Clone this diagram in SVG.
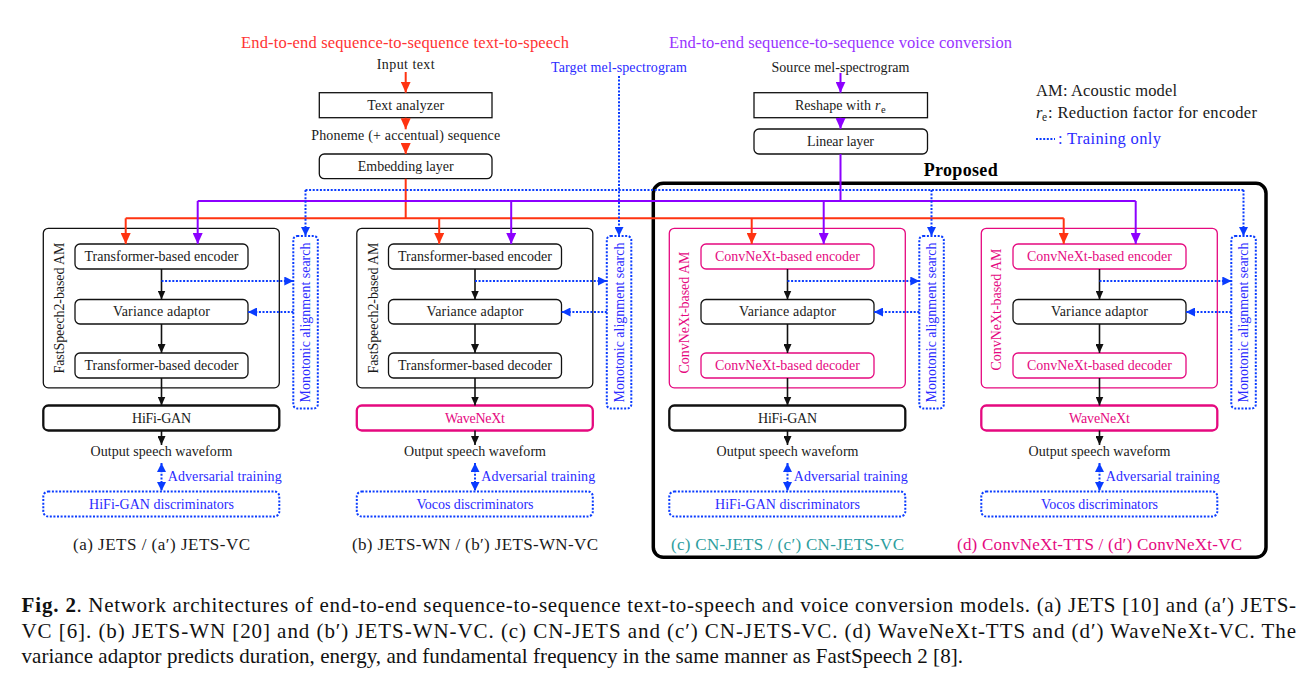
<svg xmlns="http://www.w3.org/2000/svg" width="1302" height="678" viewBox="0 0 1302 678">
<style>
text{font-family:'Liberation Serif','Times New Roman',serif;font-size:14px;fill:#1a1a1a}
.c{text-anchor:middle}
.box{fill:#fff;stroke:#111;stroke-width:1.3}
.pk{stroke:#e5097f}
.voc{stroke-width:2.3}
.dbox{fill:#fff;stroke:#0a3cff;stroke-width:2;stroke-dasharray:2 1.6}
.bt{fill:#2b2bff}
.pt{fill:#e5097f}
.tt{fill:#2e9e9e}
.k{fill:none;stroke:#111;stroke-width:1.6;marker-end:url(#mk)}
.r{fill:none;stroke:#ff3311;stroke-width:2}
.ra{marker-end:url(#mr)}
.p{fill:none;stroke:#8c00ff;stroke-width:2}
.pa{marker-end:url(#mp)}
.d{fill:none;stroke:#0a3cff;stroke-width:2;stroke-dasharray:2 1.6}
.da{marker-end:url(#mb)}
.big{font-size:16.5px}
.cap{font-size:21px;fill:#111}
.lab{font-size:17px}
.sub{font-size:10.5px}
.it{font-style:italic}
.bold{font-weight:bold}
.prop{font-size:18px;font-weight:bold;fill:#000}
</style>
<defs>
<marker id="mk" viewBox="0 0 10 10" refX="10" refY="5" markerWidth="9" markerHeight="8" markerUnits="userSpaceOnUse" orient="auto" preserveAspectRatio="none"><path d="M0,0L10,5L0,10z" fill="#111"/></marker>
<marker id="mr" viewBox="0 0 10 10" refX="10" refY="5" markerWidth="11" markerHeight="10" markerUnits="userSpaceOnUse" orient="auto" preserveAspectRatio="none"><path d="M0,0L10,5L0,10z" fill="#ff3311"/></marker>
<marker id="mp" viewBox="0 0 10 10" refX="10" refY="5" markerWidth="11" markerHeight="10" markerUnits="userSpaceOnUse" orient="auto" preserveAspectRatio="none"><path d="M0,0L10,5L0,10z" fill="#8c00ff"/></marker>
<marker id="mb" viewBox="0 0 10 10" refX="10" refY="5" markerWidth="9" markerHeight="9" markerUnits="userSpaceOnUse" orient="auto-start-reverse" preserveAspectRatio="none"><path d="M0,0L10,5L0,10z" fill="#0a3cff"/></marker>
</defs>

<g id="titles">
<text class="c big" x="405" y="48" style="fill:#ff3333" textLength="328">End-to-end sequence-to-sequence text-to-speech</text>
<text class="c big" x="840.5" y="48" style="fill:#9933ff" textLength="343">End-to-end sequence-to-sequence voice conversion</text>
</g>

<g id="tts-input"><text class="c" x="405.7" y="68.5" textLength="58">Input text</text></g>
<g id="text-analyzer"><rect class="box" x="319.3" y="92.7" width="172.7" height="25"/><text class="c" x="405.7" y="109.5" textLength="77">Text analyzer</text></g>
<g id="phoneme-seq"><text class="c" x="405.7" y="139.5" textLength="189">Phoneme (+ accentual) sequence</text></g>
<g id="embedding"><rect class="box" x="319.3" y="154" width="172.7" height="24.7" rx="5"/><text class="c" x="405.7" y="170.5" textLength="96">Embedding layer</text></g>

<g id="target-mel"><text class="c bt" x="619" y="71.5" textLength="136">Target mel-spectrogram</text></g>

<g id="vc-input"><text class="c" x="840.5" y="71.5" textLength="138">Source mel-spectrogram</text></g>
<g id="reshape"><rect class="box" x="754" y="92.7" width="173.5" height="25"/><text x="795" y="110" textLength="76">Reshape with</text><text class="it" x="875" y="110">r</text><text class="sub" x="881" y="112.5">e</text></g>
<g id="linear"><rect class="box" x="754" y="129" width="173.5" height="25" rx="5"/><text class="c" x="840.5" y="146" textLength="67">Linear layer</text></g>

<g id="legend">
<text class="big" x="1036" y="95.5" textLength="141">AM: Acoustic model</text>
<text class="big it" x="1036" y="118">r</text><text class="sub" x="1042" y="120.5" style="font-size:11.5px">e</text><text class="big" x="1048" y="118" textLength="209">: Reduction factor for encoder</text>
<path class="d" d="M1036,139H1055"/>
<text class="big bt" x="1058" y="143.5" textLength="103">: Training only</text>
</g>

<g id="proposed"><rect x="653.3" y="183.3" width="612.7" height="374" rx="10" fill="none" stroke="#000" stroke-width="3.5"/><text class="c prop" x="960.7" y="175.5" textLength="74">Proposed</text></g>

<g id="panel-a">
 <g id="a-am"><rect class="box" x="43.3" y="228.3" width="236" height="159.5" rx="5"/><text class="c" transform="translate(64,308) rotate(-90)" textLength="131">FastSpeech2-based AM</text></g>
 <g id="a-enc"><rect class="box" x="75" y="244" width="173" height="25" rx="5"/><text class="c" x="161.5" y="261" textLength="154">Transformer-based encoder</text></g>
 <g id="a-var"><rect class="box" x="75" y="299.5" width="173" height="24.5" rx="5"/><text class="c" x="161.5" y="316" textLength="97">Variance adaptor</text></g>
 <g id="a-dec"><rect class="box" x="75" y="353" width="173" height="25" rx="5"/><text class="c" x="161.5" y="370" textLength="154">Transformer-based decoder</text></g>
 <g id="a-voc"><rect class="box voc" x="43.3" y="405.5" width="236" height="25" rx="5"/><text class="c" x="161.5" y="422.5" textLength="59">HiFi-GAN</text></g>
 <g id="a-out"><text class="c" x="161.5" y="456" textLength="142">Output speech waveform</text></g>
 <g id="a-disc"><rect class="dbox" x="43.3" y="491.5" width="236" height="25" rx="5"/><text class="c bt" x="161.5" y="509" textLength="145">HiFi-GAN discriminators</text></g>
 <g id="a-mas"><rect class="dbox" x="293.3" y="236" width="24.5" height="172.5" rx="4"/><text class="c bt" transform="translate(310,322.5) rotate(-90)" textLength="160">Monotonic alignment search</text></g>
 <g id="a-label"><text class="c lab" x="161.5" y="550" textLength="177">(a) JETS / (a′) JETS-VC</text></g>
</g>

<g id="panel-b" transform="translate(313.5,0)">
 <g id="b-am"><rect class="box" x="43.3" y="228.3" width="236" height="159.5" rx="5"/><text class="c" transform="translate(64,308) rotate(-90)" textLength="131">FastSpeech2-based AM</text></g>
 <g id="b-enc"><rect class="box" x="75" y="244" width="173" height="25" rx="5"/><text class="c" x="161.5" y="261" textLength="154">Transformer-based encoder</text></g>
 <g id="b-var"><rect class="box" x="75" y="299.5" width="173" height="24.5" rx="5"/><text class="c" x="161.5" y="316" textLength="97">Variance adaptor</text></g>
 <g id="b-dec"><rect class="box" x="75" y="353" width="173" height="25" rx="5"/><text class="c" x="161.5" y="370" textLength="154">Transformer-based decoder</text></g>
 <g id="b-voc"><rect class="box voc pk" x="43.3" y="405.5" width="236" height="25" rx="5"/><text class="c pt" x="161.5" y="422.5" textLength="60">WaveNeXt</text></g>
 <g id="b-out"><text class="c" x="161.5" y="456" textLength="142">Output speech waveform</text></g>
 <g id="b-disc"><rect class="dbox" x="43.3" y="491.5" width="236" height="25" rx="5"/><text class="c bt" x="161.5" y="509" textLength="117">Vocos discriminators</text></g>
 <g id="b-mas"><rect class="dbox" x="293.3" y="236" width="24.5" height="172.5" rx="4"/><text class="c bt" transform="translate(310,322.5) rotate(-90)" textLength="160">Monotonic alignment search</text></g>
 <g id="b-label"><text class="c lab" x="161.5" y="550" textLength="246">(b) JETS-WN / (b′) JETS-WN-VC</text></g>
</g>

<g id="panel-c" transform="translate(626,0)">
 <g id="c-am"><rect class="box pk" x="43.3" y="228.3" width="236" height="159.5" rx="5"/><text class="c pt" transform="translate(63,312.5) rotate(-90)" textLength="122">ConvNeXt-based AM</text></g>
 <g id="c-enc"><rect class="box pk" x="75" y="244" width="173" height="25" rx="5"/><text class="c pt" x="161.5" y="261" textLength="145">ConvNeXt-based encoder</text></g>
 <g id="c-var"><rect class="box" x="75" y="299.5" width="173" height="24.5" rx="5"/><text class="c" x="161.5" y="316" textLength="97">Variance adaptor</text></g>
 <g id="c-dec"><rect class="box pk" x="75" y="353" width="173" height="25" rx="5"/><text class="c pt" x="161.5" y="370" textLength="145">ConvNeXt-based decoder</text></g>
 <g id="c-voc"><rect class="box voc" x="43.3" y="405.5" width="236" height="25" rx="5"/><text class="c" x="161.5" y="422.5" textLength="59">HiFi-GAN</text></g>
 <g id="c-out"><text class="c" x="161.5" y="456" textLength="142">Output speech waveform</text></g>
 <g id="c-disc"><rect class="dbox" x="43.3" y="491.5" width="236" height="25" rx="5"/><text class="c bt" x="161.5" y="509" textLength="145">HiFi-GAN discriminators</text></g>
 <g id="c-mas"><rect class="dbox" x="293.3" y="236" width="24.5" height="172.5" rx="4"/><text class="c bt" transform="translate(310,322.5) rotate(-90)" textLength="160">Monotonic alignment search</text></g>
 <g id="c-label"><text class="c lab tt" x="161.5" y="550" textLength="233">(c) CN-JETS / (c′) CN-JETS-VC</text></g>
</g>

<g id="panel-d" transform="translate(938,0)">
 <g id="d-am"><rect class="box pk" x="43.3" y="228.3" width="236" height="159.5" rx="5"/><text class="c pt" transform="translate(63,309.5) rotate(-90)" textLength="122">ConvNeXt-based AM</text></g>
 <g id="d-enc"><rect class="box pk" x="75" y="244" width="173" height="25" rx="5"/><text class="c pt" x="161.5" y="261" textLength="145">ConvNeXt-based encoder</text></g>
 <g id="d-var"><rect class="box" x="75" y="299.5" width="173" height="24.5" rx="5"/><text class="c" x="161.5" y="316" textLength="97">Variance adaptor</text></g>
 <g id="d-dec"><rect class="box pk" x="75" y="353" width="173" height="25" rx="5"/><text class="c pt" x="161.5" y="370" textLength="145">ConvNeXt-based decoder</text></g>
 <g id="d-voc"><rect class="box voc pk" x="43.3" y="405.5" width="236" height="25" rx="5"/><text class="c pt" x="161.5" y="422.5" textLength="61">WaveNeXt</text></g>
 <g id="d-out"><text class="c" x="161.5" y="456" textLength="142">Output speech waveform</text></g>
 <g id="d-disc"><rect class="dbox" x="43.3" y="491.5" width="236" height="25" rx="5"/><text class="c bt" x="161.5" y="509" textLength="117">Vocos discriminators</text></g>
 <g id="d-mas"><rect class="dbox" x="293.3" y="236" width="24.5" height="172.5" rx="4"/><text class="c bt" transform="translate(310,322.5) rotate(-90)" textLength="160">Monotonic alignment search</text></g>
 <g id="d-label"><text class="c lab pt" x="161.5" y="550" textLength="285">(d) ConvNeXt-TTS / (d′) ConvNeXt-VC</text></g>
</g>

<g id="connectors">
 <path class="r ra" d="M405.7,72V92.7"/>
 <path class="r ra" d="M405.7,117.7V129.3"/>
 <path class="r ra" d="M405.7,143V154"/>
 <path class="r" d="M405.7,178.7V218.3M125.7,218.3H1063.7"/>
 <path class="p pa" d="M840.5,73V92.7"/>
 <path class="p pa" d="M840.5,117.7V129"/>
 <path class="p" d="M840.5,154V201M197.7,201H1135.7"/>
 <path class="d" d="M305.5,190H1243.5"/>
 <path class="d da" d="M619,76V236"/>
 <g id="conn-a">
  <path class="r ra" d="M125.7,218.3V244"/>
  <path class="p pa" d="M197.7,201V244"/>
  <path class="d da" d="M305.5,190V236"/>
  <path class="k" d="M161.5,269V299.5"/>
  <path class="k" d="M161.5,324V353"/>
  <path class="k" d="M161.5,378V405.5"/>
  <path class="k" d="M161.5,430.5V445"/>
  <path class="d da" d="M161.5,281H293.3"/>
  <path class="d da" d="M293.3,312H248"/>
  <path class="d da" style="marker-start:url(#mb)" d="M161.5,463V491"/>
  <text class="bt" x="167.7" y="480.5" textLength="114">Adversarial training</text>
 </g>
 <g id="conn-b" transform="translate(313.5,0)">
  <path class="r ra" d="M125.7,218.3V244"/>
  <path class="p pa" d="M197.7,201V244"/>
  <path class="k" d="M161.5,269V299.5"/>
  <path class="k" d="M161.5,324V353"/>
  <path class="k" d="M161.5,378V405.5"/>
  <path class="k" d="M161.5,430.5V445"/>
  <path class="d da" d="M161.5,281H293.3"/>
  <path class="d da" d="M293.3,312H248"/>
  <path class="d da" style="marker-start:url(#mb)" d="M161.5,463V491"/>
  <text class="bt" x="167.7" y="480.5" textLength="114">Adversarial training</text>
 </g>
 <g id="conn-c" transform="translate(626,0)">
  <path class="r ra" d="M125.7,218.3V244"/>
  <path class="p pa" d="M197.7,201V244"/>
  <path class="d da" d="M305.5,190V236"/>
  <path class="k" d="M161.5,269V299.5"/>
  <path class="k" d="M161.5,324V353"/>
  <path class="k" d="M161.5,378V405.5"/>
  <path class="k" d="M161.5,430.5V445"/>
  <path class="d da" d="M161.5,281H293.3"/>
  <path class="d da" d="M293.3,312H248"/>
  <path class="d da" style="marker-start:url(#mb)" d="M161.5,463V491"/>
  <text class="bt" x="167.7" y="480.5" textLength="114">Adversarial training</text>
 </g>
 <g id="conn-d" transform="translate(938,0)">
  <path class="r ra" d="M125.7,218.3V244"/>
  <path class="p pa" d="M197.7,201V244"/>
  <path class="d da" d="M305.5,190V236"/>
  <path class="k" d="M161.5,269V299.5"/>
  <path class="k" d="M161.5,324V353"/>
  <path class="k" d="M161.5,378V405.5"/>
  <path class="k" d="M161.5,430.5V445"/>
  <path class="d da" d="M161.5,281H293.3"/>
  <path class="d da" d="M293.3,312H248"/>
  <path class="d da" style="marker-start:url(#mb)" d="M161.5,463V491"/>
  <text class="bt" x="167.7" y="480.5" textLength="114">Adversarial training</text>
 </g>
</g>

<g id="figure-caption">
 <text class="cap bold" x="21.5" y="612" textLength="54.5">Fig. 2</text>
 <text class="cap" x="76.5" y="612" textLength="1219.5">. Network architectures of end-to-end sequence-to-sequence text-to-speech and voice conversion models. (a) JETS [10] and (a′) JETS-</text>
 <text class="cap" x="21.5" y="637.5" textLength="1274.5">VC [6]. (b) JETS-WN [20] and (b′) JETS-WN-VC. (c) CN-JETS and (c′) CN-JETS-VC. (d) WaveNeXt-TTS and (d′) WaveNeXt-VC. The</text>
 <text class="cap" x="21.5" y="663" textLength="941.5">variance adaptor predicts duration, energy, and fundamental frequency in the same manner as FastSpeech 2 [8].</text>
</g>
</svg>
